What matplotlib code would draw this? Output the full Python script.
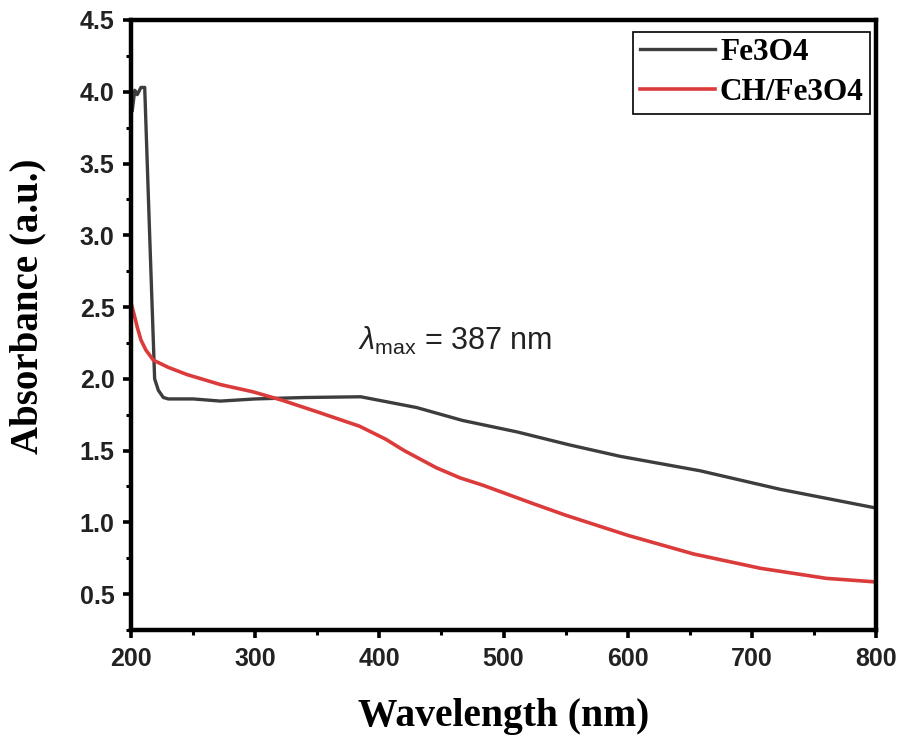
import matplotlib
matplotlib.use("Agg")
from matplotlib import pyplot as plt
from matplotlib.ticker import MultipleLocator

# values
fe_wl = [201, 203, 205, 208, 211, 215, 219, 222, 226, 230, 250, 272, 300, 340,
         385, 400, 430, 467, 511, 553, 594, 658, 723, 800]
fe_abs = [3.87, 4.01, 3.98, 4.03, 4.03, 3.0, 2.0, 1.92, 1.87, 1.86, 1.86, 1.845,
          1.86, 1.87, 1.875, 1.85, 1.80, 1.71, 1.63, 1.54, 1.46, 1.36, 1.23, 1.10]

ch_wl = [200, 203, 205, 208, 212, 218, 230, 245, 272, 298, 322, 350, 384, 405,
         420, 446, 465, 483, 524, 550, 600, 653, 707, 760, 800]
ch_abs = [2.53, 2.43, 2.36, 2.27, 2.20, 2.13, 2.08, 2.03, 1.96, 1.91, 1.85, 1.77,
          1.67, 1.58, 1.50, 1.38, 1.31, 1.26, 1.13, 1.05, 0.91, 0.78, 0.68, 0.61,
          0.585]

labels = ["Fe3O4", "CH/Fe3O4"]

plt.rcParams['mathtext.fontset'] = 'custom'
plt.rcParams['mathtext.rm'] = 'Liberation Sans'
plt.rcParams['mathtext.it'] = 'Liberation Sans:italic'

fig = plt.figure(figsize=(9.05, 7.4), dpi=100)
ax = fig.add_axes([0.1448, 0.1486, 0.968 - 0.1448, 0.973 - 0.1486])

ax.plot(fe_wl, fe_abs, color="#3d3d3d", lw=2.4, label=labels[0])
ax.plot(ch_wl, ch_abs, color="#dc3b3b", lw=2.6, label=labels[1])

ax.set_xlim(200, 800)
ax.set_ylim(0.25, 4.5)
ax.xaxis.set_major_locator(MultipleLocator(100))
ax.xaxis.set_minor_locator(MultipleLocator(50))
ax.yaxis.set_major_locator(MultipleLocator(0.5))
ax.yaxis.set_minor_locator(MultipleLocator(0.25))

for s in ax.spines.values():
    s.set_linewidth(3.2)
ax.tick_params(which="major", direction="out", length=6, width=2.6, pad=6)
ax.tick_params(which="minor", direction="out", length=3.5, width=2.2)
for lab in ax.get_xticklabels() + ax.get_yticklabels():
    lab.set_family("Liberation Sans")
    lab.set_fontweight("bold")
    lab.set_fontsize(18)
    lab.set_color("#222222")

ax.set_xlabel("Wavelength (nm)", family="Liberation Serif", fontweight="bold",
              fontsize=28.5, labelpad=20)
ax.set_ylabel("Absorbance (a.u.)", family="Liberation Serif", fontweight="bold",
              fontsize=28)
ax.yaxis.set_label_coords(-0.113, 0.53)

ax.text(383, 2.2, r"$\lambda_{\mathrm{max}}$ = 387 nm", family="Liberation Sans",
        fontsize=22, color="#222222", ha="left", va="baseline")

leg = ax.legend(loc="upper right", bbox_to_anchor=(0.992, 0.98), borderaxespad=0,
                prop={"family": "Liberation Serif", "weight": "bold", "size": 22.5},
                fancybox=False, framealpha=1, edgecolor="black", handlelength=2.4,
                handletextpad=0.17, borderpad=0.2, labelspacing=0.35)
leg.get_frame().set_linewidth(1.2)

plt.savefig("out.png", dpi=100)
